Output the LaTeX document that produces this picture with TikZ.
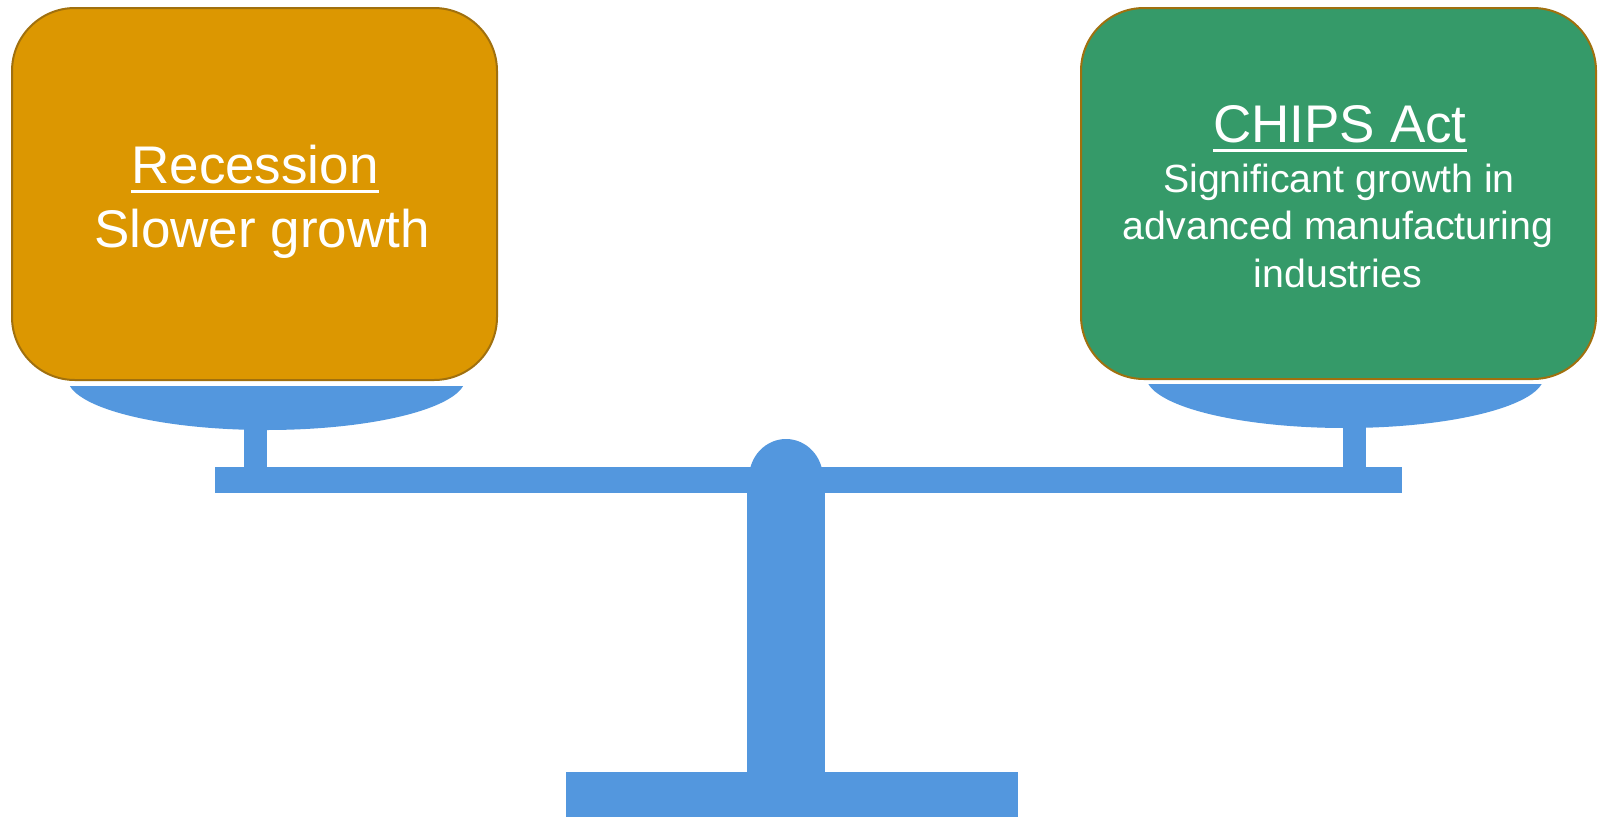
\documentclass[tikz,border=0pt]{standalone}
\usepackage{fontspec}
\setmainfont{Liberation Sans}
\definecolor{goldfill}{HTML}{DC9701}
\definecolor{goldline}{HTML}{A0700E}
\definecolor{greenfill}{HTML}{359A69}
\definecolor{scaleblue}{HTML}{5397DE}
\tikzset{
  box/.style={draw=goldline, line width=2pt, rounded corners=63pt, inner sep=0pt},
  bigtext/.style={text=white, inner sep=0pt, anchor=base, font=\fontsize{53}{64}\selectfont},
  smalltext/.style={text=white, inner sep=0pt, anchor=base, font=\fontsize{39.3}{47}\selectfont},
  uline/.style={white, line width=3pt},
  part/.style={fill=scaleblue, draw=none}
}
\begin{document}
\begin{tikzpicture}[x=1pt,y=-1pt]
\useasboundingbox (0,0) rectangle (1598,817);
% boxes
\node[box, fill=goldfill, minimum width=485pt, minimum height=372pt] (lbox) at (254.5,194) {};
\node[box, fill=greenfill, minimum width=515pt, minimum height=371pt] (rbox) at (1338.5,193.5) {};
% left text
\node[bigtext] (ltitle) at (255,183) {Recession};
\draw[uline] ([yshift=-8pt]ltitle.base west) -- ([yshift=-8pt]ltitle.base east);
\node[bigtext] (lsub) at (262,247) {Slower growth};
% right text
\node[bigtext] (rtitle) at (1340,142) {CHIPS Act};
\draw[uline] ([yshift=-8pt]rtitle.base west) -- ([yshift=-8pt]rtitle.base east);
\node[smalltext] (r1) at (1339,192) {Significant growth in};
\node[smalltext] (r2) at (1338,239) {advanced manufacturing};
\node[smalltext] (r3) at (1338,287) {industries};
% pans
\begin{scope}
\clip (60,386) rectangle (475,445);
\fill[scaleblue] (266.5,378) ellipse [x radius=199pt, y radius=52pt];
\end{scope}
\begin{scope}
\clip (1135,384) rectangle (1555,445);
\fill[scaleblue] (1345,376) ellipse [x radius=199pt, y radius=52pt];
\end{scope}
% stems
\fill[part] (244,425) rectangle (267,468);
\fill[part] (1343,423) rectangle (1366,468);
% beam
\fill[part] (215,467) rectangle (1402,493);
% knob
\fill[part] (786,478) ellipse [x radius=37pt, y radius=39pt];
% post and base
\fill[part] (747,490) rectangle (825,773);
\fill[part] (566,772) rectangle (1018,817);
\end{tikzpicture}
\end{document}
